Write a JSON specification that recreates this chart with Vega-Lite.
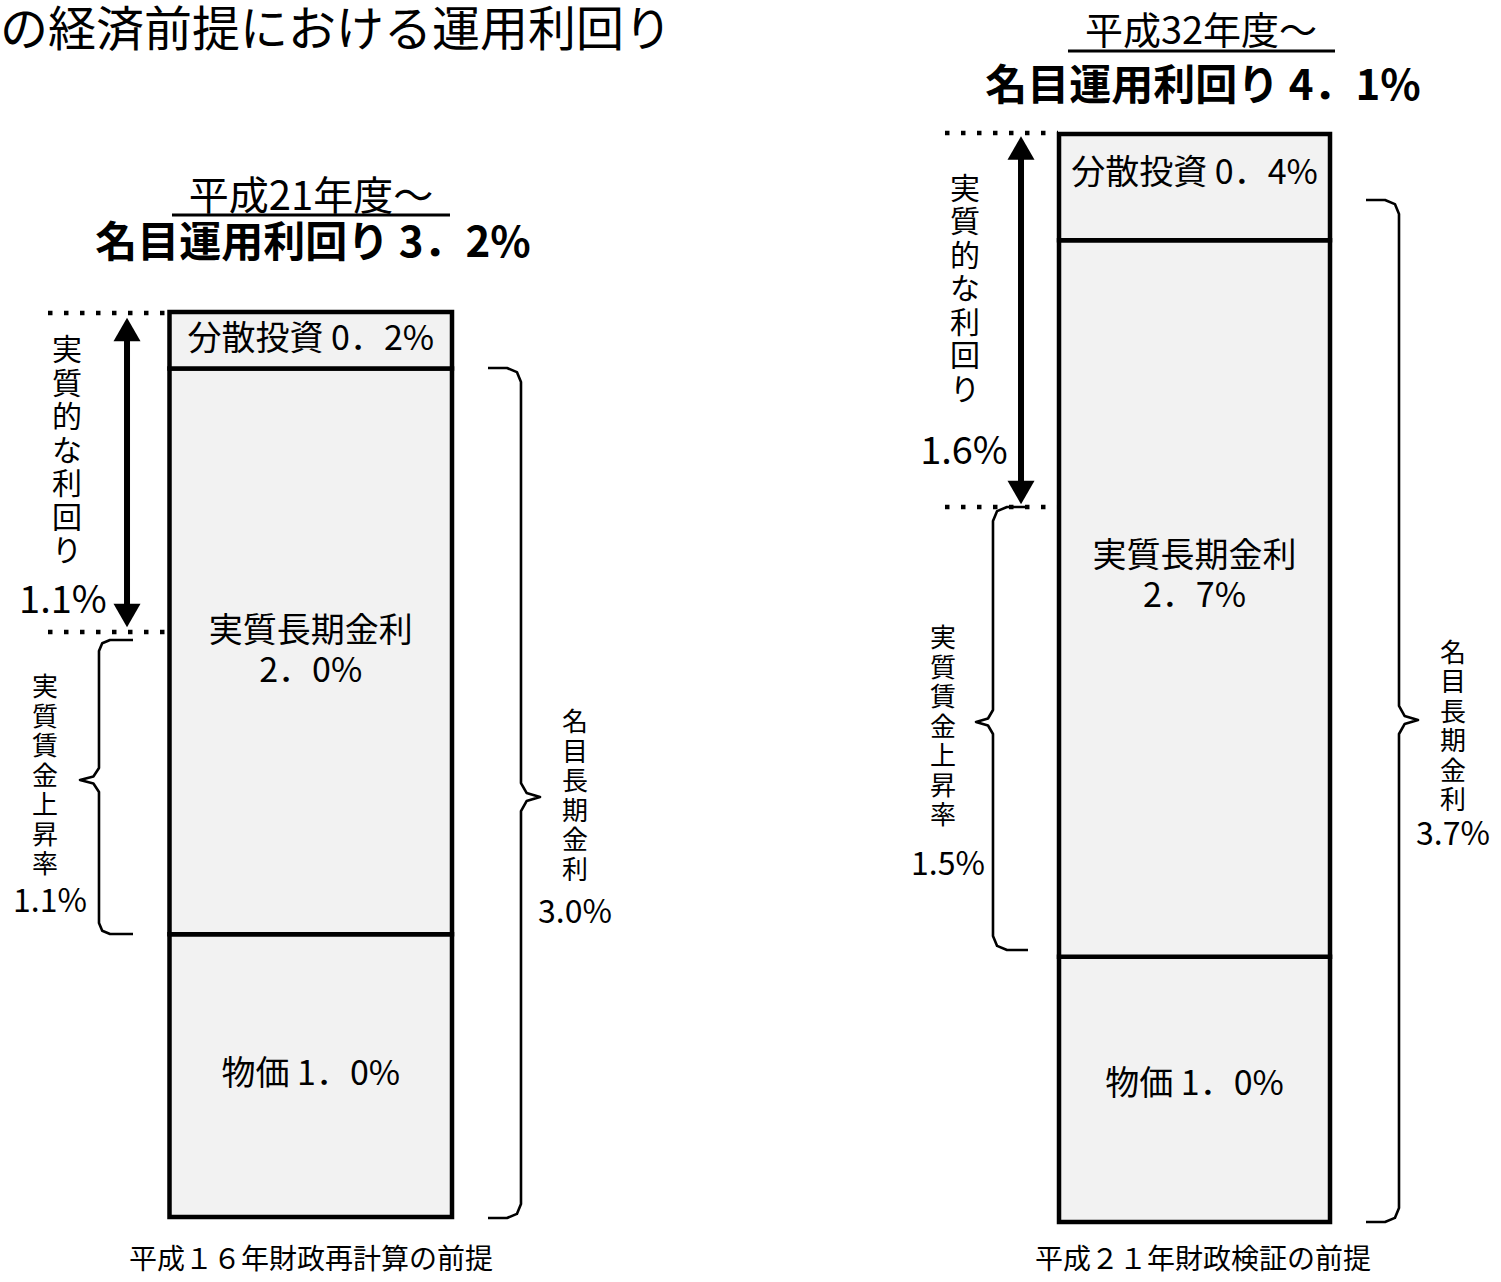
{
  "$schema": "https://vega.github.io/schema/vega-lite/v6.json",
  "width": 1501,
  "height": 1282,
  "autosize": {"type": "fit", "contains": "padding"},
  "padding": 0,
  "background": "white",
  "config": {"view": {"stroke": null}, "font": "Noto Sans CJK JP", "text": {"font": "Noto Sans CJK JP", "color": "black", "baseline": "middle", "align": "center"}},
  "datasets": {
    "bars": [
      {"panel": "L", "seg": "物価", "value": 1.0, "order": 1},
      {"panel": "L", "seg": "実質長期金利", "value": 2.0, "order": 2},
      {"panel": "L", "seg": "分散投資", "value": 0.2, "order": 3},
      {"panel": "R", "seg": "物価", "value": 1.0, "order": 1},
      {"panel": "R", "seg": "実質長期金利", "value": 2.7, "order": 2},
      {"panel": "R", "seg": "分散投資", "value": 0.4, "order": 3}
    ],
    "texts": [
      {"panel": "L", "kind": "main", "label": "の経済前提における運用利回り", "x": -0.6, "y": 4.1902},
      {"panel": "L", "kind": "sub", "label": "平成21年度～", "x": 0.5009, "y": 3.6032},
      {"panel": "L", "kind": "head", "label": "名目運用利回り 3．2%", "x": 0.508, "y": 3.44},
      {"panel": "L", "kind": "seg", "label": "分散投資 0．2%", "x": 0.5, "y": 3.101},
      {"panel": "L", "kind": "seg", "label": "実質長期金利", "x": 0.5, "y": 2.0686},
      {"panel": "L", "kind": "seg", "label": "2．0%", "x": 0.5, "y": 1.927},
      {"panel": "L", "kind": "seg", "label": "物価 1．0%", "x": 0.5, "y": 0.502},
      {"panel": "L", "kind": "vbig", "label": "実\n質\n的\nな\n利\n回\nり", "x": -0.3628, "y": 3.0605},
      {"panel": "L", "kind": "pbig", "label": "1.1%", "x": -0.377, "y": 2.1747},
      {"panel": "L", "kind": "vsmall", "label": "実\n質\n賃\n金\n上\n昇\n率", "x": -0.441, "y": 1.8706},
      {"panel": "L", "kind": "psmall", "label": "1.1%", "x": -0.423, "y": 1.1139},
      {"panel": "L", "kind": "vsmall", "label": "名\n目\n長\n期\n金\n利", "x": 1.4354, "y": 1.746},
      {"panel": "L", "kind": "psmall", "label": "3.0%", "x": 1.4354, "y": 1.075},
      {"panel": "L", "kind": "cap", "label": "平成１６年財政再計算の前提", "x": 0.5009, "y": -0.1556},
      {"panel": "R", "kind": "sub", "label": "平成32年度～", "x": 3.6513, "y": 4.4806},
      {"panel": "R", "kind": "head", "label": "名目運用利回り 4．1%", "x": 3.6584, "y": 4.2771},
      {"panel": "R", "kind": "seg", "label": "分散投資 0．4%", "x": 3.6283, "y": 3.95},
      {"panel": "R", "kind": "seg", "label": "実質長期金利", "x": 3.6283, "y": 2.5059},
      {"panel": "R", "kind": "seg", "label": "2．7%", "x": 3.6283, "y": 2.3552},
      {"panel": "R", "kind": "seg", "label": "物価 1．0%", "x": 3.6283, "y": 0.5163},
      {"panel": "R", "kind": "vbig", "label": "実\n質\n的\nな\n利\n回\nり", "x": 2.8159, "y": 3.8908},
      {"panel": "R", "kind": "pbig", "label": "1.6%", "x": 2.8124, "y": 2.8978},
      {"panel": "R", "kind": "vsmall", "label": "実\n質\n賃\n金\n上\n昇\n率", "x": 2.7381, "y": 2.1969},
      {"panel": "R", "kind": "psmall", "label": "1.5%", "x": 2.7558, "y": 1.3453},
      {"panel": "R", "kind": "vsmall", "label": "名\n目\n長\n期\n金\n利", "x": 4.5434, "y": 2.1414},
      {"panel": "R", "kind": "psmall", "label": "3.7%", "x": 4.5434, "y": 1.4583},
      {"panel": "R", "kind": "cap", "label": "平成２１年財政検証の前提", "x": 3.6584, "y": -0.147}
    ],
    "rules": [
      {"panel": "L", "kind": "ul", "x": 0.0088, "x2": 0.9929, "y": 3.5431},
      {"panel": "L", "kind": "dot", "x": -0.4301, "x2": -0.0053, "y": 3.1966},
      {"panel": "L", "kind": "dot", "x": -0.4301, "x2": -0.0053, "y": 2.0686},
      {"panel": "R", "kind": "ul", "x": 3.1805, "x2": 4.1257, "y": 4.4127},
      {"panel": "R", "kind": "dot", "x": 2.7451, "x2": 3.1451, "y": 4.1037},
      {"panel": "R", "kind": "dot", "x": 2.7451, "x2": 3.1451, "y": 2.6944}
    ],
    "shafts": [
      {"panel": "L", "x": -0.1504, "y": 3.13, "y2": 2.135},
      {"panel": "R", "x": 3.0142, "y": 4.04, "y2": 2.755}
    ],
    "heads": [
      {"panel": "L", "dir": "up", "x": -0.1504, "y": 3.1383},
      {"panel": "L", "dir": "down", "x": -0.1504, "y": 2.1269},
      {"panel": "R", "dir": "up", "x": 3.0142, "y": 4.0472},
      {"panel": "R", "dir": "down", "x": 3.0142, "y": 2.749}
    ],
    "braces": [
      {"panel": "L", "b": "L1", "i": 1, "x": -0.1292, "y": 2.0403},
      {"panel": "L", "b": "L1", "i": 2, "x": -0.2106, "y": 2.0403},
      {"panel": "L", "b": "L1", "i": 3, "x": -0.2382, "y": 2.0289},
      {"panel": "L", "b": "L1", "i": 4, "x": -0.2496, "y": 2.0014},
      {"panel": "L", "b": "L1", "i": 5, "x": -0.2496, "y": 1.5877},
      {"panel": "L", "b": "L1", "i": 6, "x": -0.2693, "y": 1.5577},
      {"panel": "L", "b": "L1", "i": 7, "x": -0.3168, "y": 1.5453},
      {"panel": "L", "b": "L1", "i": 8, "x": -0.2693, "y": 1.5328},
      {"panel": "L", "b": "L1", "i": 9, "x": -0.2496, "y": 1.5028},
      {"panel": "L", "b": "L1", "i": 10, "x": -0.2496, "y": 1.0396},
      {"panel": "L", "b": "L1", "i": 11, "x": -0.2382, "y": 1.0121},
      {"panel": "L", "b": "L1", "i": 12, "x": -0.2106, "y": 1.0007},
      {"panel": "L", "b": "L1", "i": 13, "x": -0.1292, "y": 1.0007},
      {"panel": "L", "b": "L2", "i": 1, "x": 1.1274, "y": 3.0021},
      {"panel": "L", "b": "L2", "i": 2, "x": 1.1947, "y": 3.0021},
      {"panel": "L", "b": "L2", "i": 3, "x": 1.2297, "y": 2.9877},
      {"panel": "L", "b": "L2", "i": 4, "x": 1.2442, "y": 2.9526},
      {"panel": "L", "b": "L2", "i": 5, "x": 1.2442, "y": 1.5346},
      {"panel": "L", "b": "L2", "i": 6, "x": 1.264, "y": 1.4996},
      {"panel": "L", "b": "L2", "i": 7, "x": 1.3115, "y": 1.4851},
      {"panel": "L", "b": "L2", "i": 8, "x": 1.264, "y": 1.4707},
      {"panel": "L", "b": "L2", "i": 9, "x": 1.2442, "y": 1.4356},
      {"panel": "L", "b": "L2", "i": 10, "x": 1.2442, "y": 0.046},
      {"panel": "L", "b": "L2", "i": 11, "x": 1.2297, "y": 0.011},
      {"panel": "L", "b": "L2", "i": 12, "x": 1.1947, "y": -0.0035},
      {"panel": "L", "b": "L2", "i": 13, "x": 1.1274, "y": -0.0035},
      {"panel": "R", "b": "R1", "i": 1, "x": 3.0389, "y": 2.6944},
      {"panel": "R", "b": "R1", "i": 2, "x": 2.9646, "y": 2.6944},
      {"panel": "R", "b": "R1", "i": 3, "x": 2.9296, "y": 2.6789},
      {"panel": "R", "b": "R1", "i": 4, "x": 2.915, "y": 2.6416},
      {"panel": "R", "b": "R1", "i": 5, "x": 2.915, "y": 1.9294},
      {"panel": "R", "b": "R1", "i": 6, "x": 2.8974, "y": 1.8974},
      {"panel": "R", "b": "R1", "i": 7, "x": 2.8549, "y": 1.8842},
      {"panel": "R", "b": "R1", "i": 8, "x": 2.8974, "y": 1.8709},
      {"panel": "R", "b": "R1", "i": 9, "x": 2.915, "y": 1.8389},
      {"panel": "R", "b": "R1", "i": 10, "x": 2.915, "y": 1.0777},
      {"panel": "R", "b": "R1", "i": 11, "x": 2.9296, "y": 1.0404},
      {"panel": "R", "b": "R1", "i": 12, "x": 2.9646, "y": 1.025},
      {"panel": "R", "b": "R1", "i": 13, "x": 3.0389, "y": 1.025},
      {"panel": "R", "b": "R2", "i": 1, "x": 4.2354, "y": 3.8512},
      {"panel": "R", "b": "R2", "i": 2, "x": 4.3027, "y": 3.8512},
      {"panel": "R", "b": "R2", "i": 3, "x": 4.3377, "y": 3.8358},
      {"panel": "R", "b": "R2", "i": 4, "x": 4.3522, "y": 3.7985},
      {"panel": "R", "b": "R2", "i": 5, "x": 4.3522, "y": 1.9445},
      {"panel": "R", "b": "R2", "i": 6, "x": 4.3719, "y": 1.9071},
      {"panel": "R", "b": "R2", "i": 7, "x": 4.4195, "y": 1.8917},
      {"panel": "R", "b": "R2", "i": 8, "x": 4.3719, "y": 1.8762},
      {"panel": "R", "b": "R2", "i": 9, "x": 4.3522, "y": 1.8389},
      {"panel": "R", "b": "R2", "i": 10, "x": 4.3522, "y": 0.0528},
      {"panel": "R", "b": "R2", "i": 11, "x": 4.3377, "y": 0.0155},
      {"panel": "R", "b": "R2", "i": 12, "x": 4.3027, "y": 0},
      {"panel": "R", "b": "R2", "i": 13, "x": 4.2354, "y": 0}
    ]
  },
  "layer": [
    {
      "layer": [
        {"data": {"name": "bars"}, "transform": [{"filter": "datum.panel === 'L'"}, {"stack": "value", "groupby": ["panel"], "sort": [{"field": "order", "order": "ascending"}], "as": ["y0", "y1"]}],
         "mark": {"type": "rect", "fill": "#f2f2f2", "stroke": "black", "strokeWidth": 4.5},
         "encoding": {"x": {"datum": 0, "type": "quantitative", "scale": {"domain": [-0.6, 4.71327], "nice": false, "zero": false}, "axis": null}, "x2": {"datum": 1},
                      "y": {"field": "y0", "type": "quantitative", "scale": {"domain": [-0.2298, 4.3034], "nice": false, "zero": false}, "axis": null}, "y2": {"field": "y1"}}},
        {"data": {"name": "rules"}, "transform": [{"filter": "datum.panel === 'L' && datum.kind === 'ul'"}],
         "mark": {"type": "rule", "color": "black", "strokeWidth": 3},
         "encoding": {"x": {"field": "x", "type": "quantitative", "scale": {"domain": [-0.6, 4.71327], "nice": false, "zero": false}, "axis": null}, "x2": {"field": "x2"},
                      "y": {"field": "y", "type": "quantitative", "scale": {"domain": [-0.2298, 4.3034], "nice": false, "zero": false}, "axis": null}}},
        {"data": {"name": "rules"}, "transform": [{"filter": "datum.panel === 'L' && datum.kind === 'dot'"}],
         "mark": {"type": "rule", "color": "black", "strokeWidth": 4.5, "strokeDash": [4.5, 11.5], "strokeCap": "butt"},
         "encoding": {"x": {"field": "x", "type": "quantitative", "scale": {"domain": [-0.6, 4.71327], "nice": false, "zero": false}, "axis": null}, "x2": {"field": "x2"},
                      "y": {"field": "y", "type": "quantitative", "scale": {"domain": [-0.2298, 4.3034], "nice": false, "zero": false}, "axis": null}}},
        {"data": {"name": "shafts"}, "transform": [{"filter": "datum.panel === 'L'"}],
         "mark": {"type": "rule", "color": "black", "strokeWidth": 6},
         "encoding": {"x": {"field": "x", "type": "quantitative", "scale": {"domain": [-0.6, 4.71327], "nice": false, "zero": false}, "axis": null},
                      "y": {"field": "y", "type": "quantitative", "scale": {"domain": [-0.2298, 4.3034], "nice": false, "zero": false}, "axis": null}, "y2": {"field": "y2"}}},
        {"data": {"name": "heads"}, "transform": [{"filter": "datum.panel === 'L'"}],
         "mark": {"type": "point", "filled": true, "color": "black", "opacity": 1, "size": 729, "strokeWidth": 0},
         "encoding": {"x": {"field": "x", "type": "quantitative", "scale": {"domain": [-0.6, 4.71327], "nice": false, "zero": false}, "axis": null},
                      "y": {"field": "y", "type": "quantitative", "scale": {"domain": [-0.2298, 4.3034], "nice": false, "zero": false}, "axis": null},
                      "shape": {"field": "dir", "type": "nominal", "scale": {"domain": ["up", "down"], "range": ["triangle-up", "triangle-down"]}, "legend": null}}},
        {"data": {"name": "braces"}, "transform": [{"filter": "datum.panel === 'L'"}],
         "mark": {"type": "line", "color": "black", "strokeWidth": 2.6, "strokeJoin": "round"},
         "encoding": {"x": {"field": "x", "type": "quantitative", "scale": {"domain": [-0.6, 4.71327], "nice": false, "zero": false}, "axis": null},
                      "y": {"field": "y", "type": "quantitative", "scale": {"domain": [-0.2298, 4.3034], "nice": false, "zero": false}, "axis": null},
                      "detail": {"field": "b", "type": "nominal"}, "order": {"field": "i", "type": "quantitative"}}},
        {"data": {"name": "texts"}, "transform": [{"filter": "datum.panel === 'L' && datum.kind === 'main'"}],
         "mark": {"type": "text", "fontSize": 48, "align": "left"},
         "encoding": {"x": {"field": "x", "type": "quantitative", "scale": {"domain": [-0.6, 4.71327], "nice": false, "zero": false}, "axis": null},
                      "y": {"field": "y", "type": "quantitative", "scale": {"domain": [-0.2298, 4.3034], "nice": false, "zero": false}, "axis": null}, "text": {"field": "label"}}},
        {"data": {"name": "texts"}, "transform": [{"filter": "datum.panel === 'L' && datum.kind === 'sub'"}],
         "mark": {"type": "text", "fontSize": 40},
         "encoding": {"x": {"field": "x", "type": "quantitative", "scale": {"domain": [-0.6, 4.71327], "nice": false, "zero": false}, "axis": null},
                      "y": {"field": "y", "type": "quantitative", "scale": {"domain": [-0.2298, 4.3034], "nice": false, "zero": false}, "axis": null}, "text": {"field": "label"}}},
        {"data": {"name": "texts"}, "transform": [{"filter": "datum.panel === 'L' && datum.kind === 'head'"}],
         "mark": {"type": "text", "fontSize": 42, "fontWeight": "bold"},
         "encoding": {"x": {"field": "x", "type": "quantitative", "scale": {"domain": [-0.6, 4.71327], "nice": false, "zero": false}, "axis": null},
                      "y": {"field": "y", "type": "quantitative", "scale": {"domain": [-0.2298, 4.3034], "nice": false, "zero": false}, "axis": null}, "text": {"field": "label"}}},
        {"data": {"name": "texts"}, "transform": [{"filter": "datum.panel === 'L' && datum.kind === 'seg'"}],
         "mark": {"type": "text", "fontSize": 34},
         "encoding": {"x": {"field": "x", "type": "quantitative", "scale": {"domain": [-0.6, 4.71327], "nice": false, "zero": false}, "axis": null},
                      "y": {"field": "y", "type": "quantitative", "scale": {"domain": [-0.2298, 4.3034], "nice": false, "zero": false}, "axis": null}, "text": {"field": "label"}}},
        {"data": {"name": "texts"}, "transform": [{"filter": "datum.panel === 'L' && datum.kind === 'vbig'"}],
         "mark": {"type": "text", "fontSize": 30, "lineBreak": "\n", "lineHeight": 33.5},
         "encoding": {"x": {"field": "x", "type": "quantitative", "scale": {"domain": [-0.6, 4.71327], "nice": false, "zero": false}, "axis": null},
                      "y": {"field": "y", "type": "quantitative", "scale": {"domain": [-0.2298, 4.3034], "nice": false, "zero": false}, "axis": null}, "text": {"field": "label"}}},
        {"data": {"name": "texts"}, "transform": [{"filter": "datum.panel === 'L' && datum.kind === 'pbig'"}],
         "mark": {"type": "text", "fontSize": 38},
         "encoding": {"x": {"field": "x", "type": "quantitative", "scale": {"domain": [-0.6, 4.71327], "nice": false, "zero": false}, "axis": null},
                      "y": {"field": "y", "type": "quantitative", "scale": {"domain": [-0.2298, 4.3034], "nice": false, "zero": false}, "axis": null}, "text": {"field": "label"}}},
        {"data": {"name": "texts"}, "transform": [{"filter": "datum.panel === 'L' && datum.kind === 'vsmall'"}],
         "mark": {"type": "text", "fontSize": 26, "lineBreak": "\n", "lineHeight": 29.5},
         "encoding": {"x": {"field": "x", "type": "quantitative", "scale": {"domain": [-0.6, 4.71327], "nice": false, "zero": false}, "axis": null},
                      "y": {"field": "y", "type": "quantitative", "scale": {"domain": [-0.2298, 4.3034], "nice": false, "zero": false}, "axis": null}, "text": {"field": "label"}}},
        {"data": {"name": "texts"}, "transform": [{"filter": "datum.panel === 'L' && datum.kind === 'psmall'"}],
         "mark": {"type": "text", "fontSize": 32},
         "encoding": {"x": {"field": "x", "type": "quantitative", "scale": {"domain": [-0.6, 4.71327], "nice": false, "zero": false}, "axis": null},
                      "y": {"field": "y", "type": "quantitative", "scale": {"domain": [-0.2298, 4.3034], "nice": false, "zero": false}, "axis": null}, "text": {"field": "label"}}},
        {"data": {"name": "texts"}, "transform": [{"filter": "datum.panel === 'L' && datum.kind === 'cap'"}],
         "mark": {"type": "text", "fontSize": 28},
         "encoding": {"x": {"field": "x", "type": "quantitative", "scale": {"domain": [-0.6, 4.71327], "nice": false, "zero": false}, "axis": null},
                      "y": {"field": "y", "type": "quantitative", "scale": {"domain": [-0.2298, 4.3034], "nice": false, "zero": false}, "axis": null}, "text": {"field": "label"}}}
      ]
    },
    {
      "layer": [
        {"data": {"name": "bars"}, "transform": [{"filter": "datum.panel === 'R'"}, {"stack": "value", "groupby": ["panel"], "sort": [{"field": "order", "order": "ascending"}], "as": ["y0", "y1"]}],
         "mark": {"type": "rect", "fill": "#f2f2f2", "stroke": "black", "strokeWidth": 4.5},
         "encoding": {"x": {"datum": 3.1487, "type": "quantitative", "scale": {"domain": [-0.6, 4.71327], "nice": false, "zero": false}, "axis": null}, "x2": {"datum": 4.108},
                      "y": {"field": "y0", "type": "quantitative", "scale": {"domain": [-0.2261, 4.6049], "nice": false, "zero": false}, "axis": null}, "y2": {"field": "y1"}}},
        {"data": {"name": "rules"}, "transform": [{"filter": "datum.panel === 'R' && datum.kind === 'ul'"}],
         "mark": {"type": "rule", "color": "black", "strokeWidth": 3},
         "encoding": {"x": {"field": "x", "type": "quantitative", "scale": {"domain": [-0.6, 4.71327], "nice": false, "zero": false}, "axis": null}, "x2": {"field": "x2"},
                      "y": {"field": "y", "type": "quantitative", "scale": {"domain": [-0.2261, 4.6049], "nice": false, "zero": false}, "axis": null}}},
        {"data": {"name": "rules"}, "transform": [{"filter": "datum.panel === 'R' && datum.kind === 'dot'"}],
         "mark": {"type": "rule", "color": "black", "strokeWidth": 4.5, "strokeDash": [4.5, 11.5], "strokeCap": "butt"},
         "encoding": {"x": {"field": "x", "type": "quantitative", "scale": {"domain": [-0.6, 4.71327], "nice": false, "zero": false}, "axis": null}, "x2": {"field": "x2"},
                      "y": {"field": "y", "type": "quantitative", "scale": {"domain": [-0.2261, 4.6049], "nice": false, "zero": false}, "axis": null}}},
        {"data": {"name": "shafts"}, "transform": [{"filter": "datum.panel === 'R'"}],
         "mark": {"type": "rule", "color": "black", "strokeWidth": 6},
         "encoding": {"x": {"field": "x", "type": "quantitative", "scale": {"domain": [-0.6, 4.71327], "nice": false, "zero": false}, "axis": null},
                      "y": {"field": "y", "type": "quantitative", "scale": {"domain": [-0.2261, 4.6049], "nice": false, "zero": false}, "axis": null}, "y2": {"field": "y2"}}},
        {"data": {"name": "heads"}, "transform": [{"filter": "datum.panel === 'R'"}],
         "mark": {"type": "point", "filled": true, "color": "black", "opacity": 1, "size": 729, "strokeWidth": 0},
         "encoding": {"x": {"field": "x", "type": "quantitative", "scale": {"domain": [-0.6, 4.71327], "nice": false, "zero": false}, "axis": null},
                      "y": {"field": "y", "type": "quantitative", "scale": {"domain": [-0.2261, 4.6049], "nice": false, "zero": false}, "axis": null},
                      "shape": {"field": "dir", "type": "nominal", "scale": {"domain": ["up", "down"], "range": ["triangle-up", "triangle-down"]}, "legend": null}}},
        {"data": {"name": "braces"}, "transform": [{"filter": "datum.panel === 'R'"}],
         "mark": {"type": "line", "color": "black", "strokeWidth": 2.6, "strokeJoin": "round"},
         "encoding": {"x": {"field": "x", "type": "quantitative", "scale": {"domain": [-0.6, 4.71327], "nice": false, "zero": false}, "axis": null},
                      "y": {"field": "y", "type": "quantitative", "scale": {"domain": [-0.2261, 4.6049], "nice": false, "zero": false}, "axis": null},
                      "detail": {"field": "b", "type": "nominal"}, "order": {"field": "i", "type": "quantitative"}}},
        {"data": {"name": "texts"}, "transform": [{"filter": "datum.panel === 'R' && datum.kind === 'sub'"}],
         "mark": {"type": "text", "fontSize": 38},
         "encoding": {"x": {"field": "x", "type": "quantitative", "scale": {"domain": [-0.6, 4.71327], "nice": false, "zero": false}, "axis": null},
                      "y": {"field": "y", "type": "quantitative", "scale": {"domain": [-0.2261, 4.6049], "nice": false, "zero": false}, "axis": null}, "text": {"field": "label"}}},
        {"data": {"name": "texts"}, "transform": [{"filter": "datum.panel === 'R' && datum.kind === 'head'"}],
         "mark": {"type": "text", "fontSize": 42, "fontWeight": "bold"},
         "encoding": {"x": {"field": "x", "type": "quantitative", "scale": {"domain": [-0.6, 4.71327], "nice": false, "zero": false}, "axis": null},
                      "y": {"field": "y", "type": "quantitative", "scale": {"domain": [-0.2261, 4.6049], "nice": false, "zero": false}, "axis": null}, "text": {"field": "label"}}},
        {"data": {"name": "texts"}, "transform": [{"filter": "datum.panel === 'R' && datum.kind === 'seg'"}],
         "mark": {"type": "text", "fontSize": 34},
         "encoding": {"x": {"field": "x", "type": "quantitative", "scale": {"domain": [-0.6, 4.71327], "nice": false, "zero": false}, "axis": null},
                      "y": {"field": "y", "type": "quantitative", "scale": {"domain": [-0.2261, 4.6049], "nice": false, "zero": false}, "axis": null}, "text": {"field": "label"}}},
        {"data": {"name": "texts"}, "transform": [{"filter": "datum.panel === 'R' && datum.kind === 'vbig'"}],
         "mark": {"type": "text", "fontSize": 30, "lineBreak": "\n", "lineHeight": 33.5},
         "encoding": {"x": {"field": "x", "type": "quantitative", "scale": {"domain": [-0.6, 4.71327], "nice": false, "zero": false}, "axis": null},
                      "y": {"field": "y", "type": "quantitative", "scale": {"domain": [-0.2261, 4.6049], "nice": false, "zero": false}, "axis": null}, "text": {"field": "label"}}},
        {"data": {"name": "texts"}, "transform": [{"filter": "datum.panel === 'R' && datum.kind === 'pbig'"}],
         "mark": {"type": "text", "fontSize": 38},
         "encoding": {"x": {"field": "x", "type": "quantitative", "scale": {"domain": [-0.6, 4.71327], "nice": false, "zero": false}, "axis": null},
                      "y": {"field": "y", "type": "quantitative", "scale": {"domain": [-0.2261, 4.6049], "nice": false, "zero": false}, "axis": null}, "text": {"field": "label"}}},
        {"data": {"name": "texts"}, "transform": [{"filter": "datum.panel === 'R' && datum.kind === 'vsmall'"}],
         "mark": {"type": "text", "fontSize": 26, "lineBreak": "\n", "lineHeight": 29.5},
         "encoding": {"x": {"field": "x", "type": "quantitative", "scale": {"domain": [-0.6, 4.71327], "nice": false, "zero": false}, "axis": null},
                      "y": {"field": "y", "type": "quantitative", "scale": {"domain": [-0.2261, 4.6049], "nice": false, "zero": false}, "axis": null}, "text": {"field": "label"}}},
        {"data": {"name": "texts"}, "transform": [{"filter": "datum.panel === 'R' && datum.kind === 'psmall'"}],
         "mark": {"type": "text", "fontSize": 32},
         "encoding": {"x": {"field": "x", "type": "quantitative", "scale": {"domain": [-0.6, 4.71327], "nice": false, "zero": false}, "axis": null},
                      "y": {"field": "y", "type": "quantitative", "scale": {"domain": [-0.2261, 4.6049], "nice": false, "zero": false}, "axis": null}, "text": {"field": "label"}}},
        {"data": {"name": "texts"}, "transform": [{"filter": "datum.panel === 'R' && datum.kind === 'cap'"}],
         "mark": {"type": "text", "fontSize": 28},
         "encoding": {"x": {"field": "x", "type": "quantitative", "scale": {"domain": [-0.6, 4.71327], "nice": false, "zero": false}, "axis": null},
                      "y": {"field": "y", "type": "quantitative", "scale": {"domain": [-0.2261, 4.6049], "nice": false, "zero": false}, "axis": null}, "text": {"field": "label"}}}
      ]
    }
  ],
  "resolve": {"scale": {"y": "independent"}}
}
